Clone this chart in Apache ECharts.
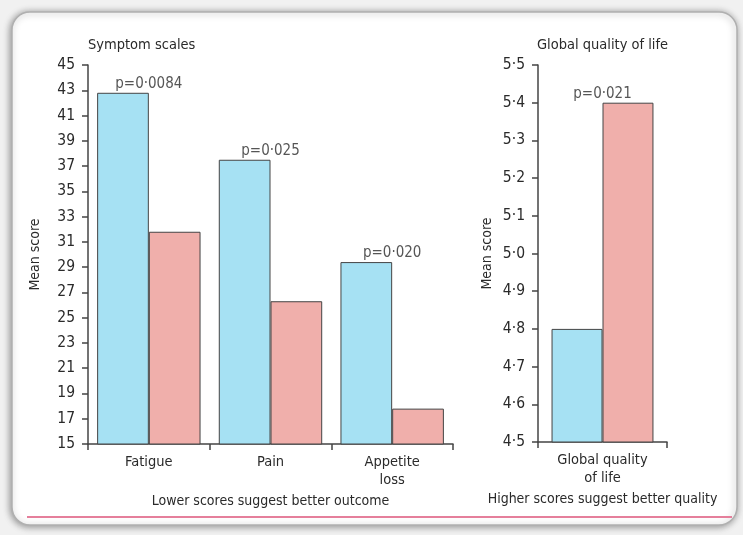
<!DOCTYPE html>
<html>
<head>
<meta charset="utf-8">
<script src="https://cdn.jsdelivr.net/npm/echarts@6/dist/echarts.min.js"></script>
<style>
  html, body { margin: 0; padding: 0; background: #f1f1f1; }
  #chart { width: 743px; height: 535px; }
</style>
</head>
<body>
<div id="chart"></div>
<script>
// Symptom scales (EORTC mean scores)
const symptomCategories = ['Fatigue', 'Pain', 'Appetite\nloss'];
const symptomGroupA = [42.8, 37.5, 29.4];
const symptomGroupB = [31.8, 26.3, 17.8];
const symptomPValues = ['p=0·0084', 'p=0·025', 'p=0·020'];
const symptomTicks = { min: 15, max: 45, step: 2 };

// Global quality of life
const qolCategories = ['Global quality\nof life'];
const qolGroupA = [4.8];
const qolGroupB = [5.4];
const qolPValues = ['p=0·021'];
const qolTicks = { min: 4.5, max: 5.5, step: 0.1 };

const FONT = '"Liberation Sans Narrow", "DejaVu Sans Condensed", "Open Sans", sans-serif';
const TEXT = '#2a2a2a';
const AXIS = '#444';
const BLUE = '#a6e1f3';
const PINK = '#f0afab';
const EDGE = '#444';

const dot = s => String(s).replace('.', '·');

function valueAxis(gridIndex, ticks, decimals, nameGap) {
  return {
    type: 'value', gridIndex,
    min: ticks.min, max: ticks.max, interval: ticks.step,
    name: 'Mean score', nameLocation: 'middle', nameGap,
    nameTextStyle: { fontFamily: FONT, fontSize: 14, color: TEXT },
    splitLine: { show: false },
    axisLine: { show: true, lineStyle: { color: AXIS, width: 1.5 } },
    axisTick: { show: true, length: 6, lineStyle: { color: AXIS, width: 1.5 } },
    axisLabel: {
      fontFamily: FONT, fontSize: 15.5, color: TEXT, margin: 13,
      formatter: v => dot(v.toFixed(decimals))
    }
  };
}

function categoryAxis(gridIndex, data, caption) {
  return {
    type: 'category', gridIndex, data,
    name: caption, nameLocation: 'middle', nameGap: 41,
    nameTextStyle: { fontFamily: FONT, fontSize: 14, color: TEXT },
    axisLine: { lineStyle: { color: AXIS, width: 1.5 } },
    axisTick: { show: true, length: 6, lineStyle: { color: AXIS, width: 1.5 } },
    axisLabel: { fontFamily: FONT, fontSize: 14.5, color: TEXT, margin: 9, lineHeight: 18 }
  };
}

function barSeries(axisIndex, data, color, gap) {
  return {
    type: 'bar', xAxisIndex: axisIndex, yAxisIndex: axisIndex, data,
    barGap: '0%', barCategoryGap: gap,
    itemStyle: { color, borderColor: EDGE, borderWidth: 1 },
    silent: true
  };
}

// p-value annotations sit above the taller bar, centred on the category
function pLabelSeries(axisIndex, categories, a, b, pValues) {
  return {
    type: 'scatter', xAxisIndex: axisIndex, yAxisIndex: axisIndex,
    symbolSize: 0,
    data: categories.map((c, i) => ({ value: [c, Math.max(a[i], b[i])], p: pValues[i] })),
    label: {
      show: true, position: 'top', distance: 1,
      fontFamily: FONT, fontSize: 15, color: TEXT,
      formatter: p => p.data.p
    },
    silent: true
  };
}

const chart = echarts.init(document.getElementById('chart'));
chart.setOption({
  backgroundColor: '#f1f1f1',
  animation: false,
  graphic: [
    {
      type: 'rect', z: -10,
      shape: { x: 12, y: 12, width: 725, height: 513, r: 18 },
      style: {
        fill: '#ffffff', stroke: '#b0b0b0', lineWidth: 1.5,
        shadowBlur: 7, shadowColor: 'rgba(0,0,0,0.4)', shadowOffsetX: -1, shadowOffsetY: 1
      }
    },
    {
      type: 'line', z: -5,
      shape: { x1: 27, y1: 517, x2: 732, y2: 517 },
      style: { stroke: '#e57f9b', lineWidth: 2 }
    }
  ],
  title: [
    { text: 'Symptom scales', left: 83, top: 33,
      textStyle: { fontFamily: FONT, fontSize: 14.5, fontWeight: 'normal', color: TEXT } },
    { text: 'Global quality of life', left: 532, top: 33,
      textStyle: { fontFamily: FONT, fontSize: 14.5, fontWeight: 'normal', color: TEXT } }
  ],
  grid: [
    { left: 88, top: 65, width: 365, height: 379 },
    { left: 538, top: 65, width: 129, height: 377 }
  ],
  xAxis: [
    categoryAxis(0, symptomCategories, 'Lower scores suggest better outcome'),
    categoryAxis(1, qolCategories, 'Higher scores suggest better quality')
  ],
  yAxis: [
    valueAxis(0, symptomTicks, 0, 46),
    valueAxis(1, qolTicks, 1, 44)
  ],
  series: [
    barSeries(0, symptomGroupA, BLUE, '15%'),
    barSeries(0, symptomGroupB, PINK, '15%'),
    pLabelSeries(0, symptomCategories, symptomGroupA, symptomGroupB, symptomPValues),
    barSeries(1, qolGroupA, BLUE, '21%'),
    barSeries(1, qolGroupB, PINK, '21%'),
    pLabelSeries(1, qolCategories, qolGroupA, qolGroupB, qolPValues)
  ]
});
</script>
</body>
</html>
